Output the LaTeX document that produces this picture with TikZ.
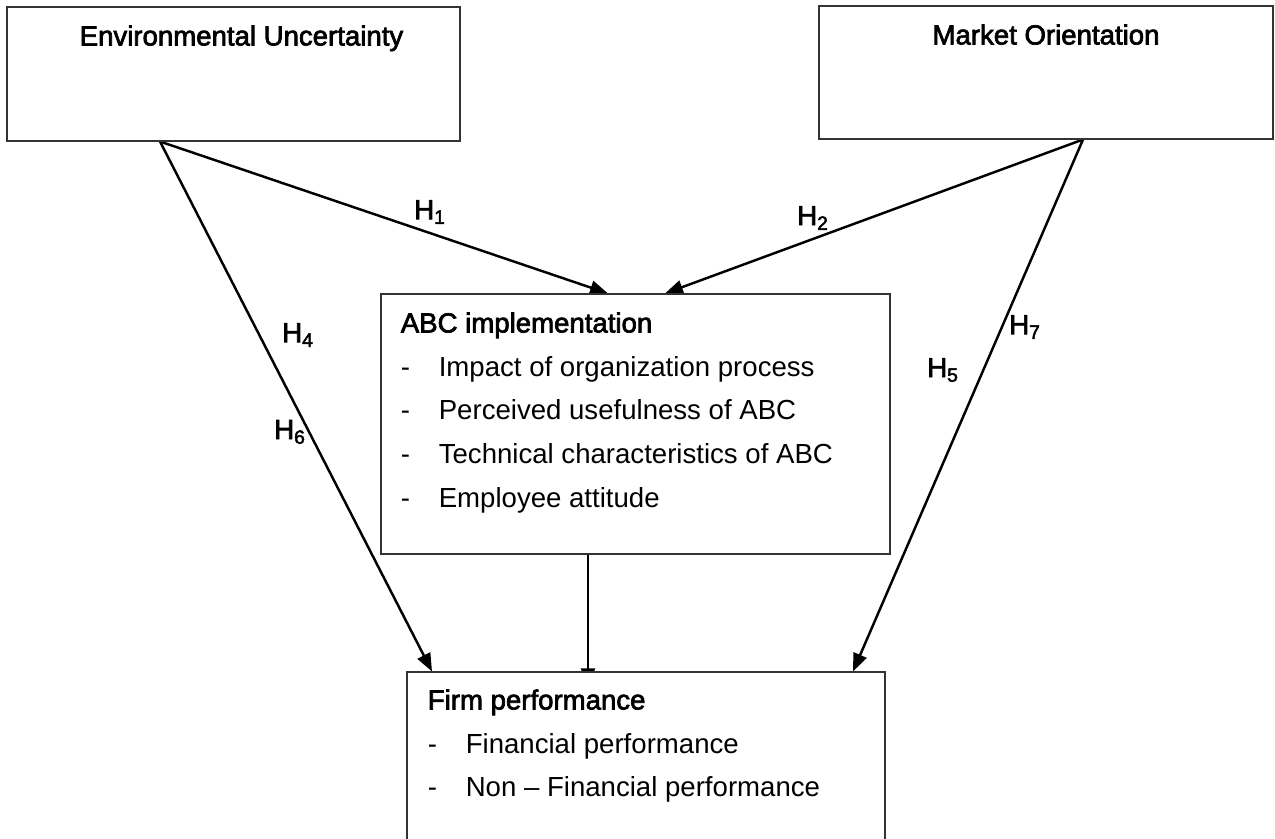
\documentclass[tikz,border=0pt]{standalone}
\usepackage{fontspec}
\setmainfont{Liberation Sans}
\newfontfamily\headfont[FakeBold=2.5]{Liberation Sans}
\usetikzlibrary{arrows.meta,backgrounds,positioning}

\newcommand\bodysize{\fontsize{15.7}{24.9}\selectfont}

\tikzset{
	box/.style={draw=black!80, line width=0.6pt, fill=white, rectangle, inner sep=0pt},
	link/.style={line width=1.4pt, -{Triangle[length=0.36cm,width=0.28cm]}},
	hyp/.style={font=\headfont\bodysize, inner sep=1pt},
}

\begin{document}
\begin{tikzpicture}[font=\bodysize]
			\useasboundingbox (0,0) rectangle (25.5,16.78);

			% boxes
			\node[box, minimum width=9.06cm, minimum height=2.68cm] (eu) at (4.67,15.30) {};
			\node[box, minimum width=9.08cm, minimum height=2.66cm] (mo) at (20.92,15.33) {};
			\node[box, minimum width=10.18cm, minimum height=5.20cm] (abc) at (12.71,8.30) {};
			\node[box, minimum width=9.56cm, minimum height=3.94cm] (fp) at (12.92,1.37) {};

			% titles
			\node[anchor=base, font=\headfont\bodysize] (eutitle) at ([xshift=0.16cm, yshift=-0.78cm]eu.north) {Environmental Uncertainty};
			\node[anchor=base, font=\headfont\bodysize] (motitle) at ([yshift=-0.78cm]mo.north) {Market Orientation};

			% lists
			\node[anchor=base west, inner sep=0pt] (abclist) at ([xshift=0.40cm, yshift=-0.78cm]abc.north west) {%
				\begin{tabular}[t]{@{}l@{}}
					{\headfont ABC implementation}\\
					\makebox[0.76cm][l]{-}Impact of organization process\\
					\makebox[0.76cm][l]{-}Perceived usefulness of ABC\\
					\makebox[0.76cm][l]{-}Technical characteristics of ABC\\
					\makebox[0.76cm][l]{-}Employee attitude
				\end{tabular}};
			\node[anchor=base west, inner sep=0pt] (fplist) at ([xshift=0.42cm, yshift=-0.76cm]fp.north west) {%
				\begin{tabular}[t]{@{}l@{}}
					{\headfont Firm performance}\\
					\makebox[0.76cm][l]{-}Financial performance\\
					\makebox[0.76cm][l]{-}Non – Financial performance
				\end{tabular}};

			% arrows, behind the boxes
			\begin{scope}[on background layer]
				\draw[link] ([xshift=-1.47cm]eu.south) -- ([xshift=-0.55cm]abc.north);
				\draw[link] ([xshift=0.74cm]mo.south) -- ([xshift=0.59cm]abc.north);
				\draw[link] ([xshift=-1.47cm]eu.south) -- ([xshift=-4.28cm]fp.north);
				\draw[link] ([xshift=0.74cm]mo.south) -- ([xshift=4.14cm]fp.north);
				\draw[link] ([xshift=-0.95cm]abc.south) -- ([xshift=-0.95cm, yshift=-0.30cm]abc.south |- fp.north);
			\end{scope}

			% hypotheses
			\node[hyp] (h1) at (8.60,12.54) {H\textsubscript{1}};
			\node[hyp] (h2) at (16.26,12.42) {H\textsubscript{2}};
			\node[hyp] (h4) at (5.96,10.08) {H\textsubscript{4}};
			\node[hyp] (h6) at (5.80,8.14) {H\textsubscript{6}};
			\node[hyp] (h7) at (20.50,10.24) {H\textsubscript{7}};
			\node[hyp] (h5) at (18.86,9.38) {H\textsubscript{5}};
		\end{tikzpicture}
\end{document}
